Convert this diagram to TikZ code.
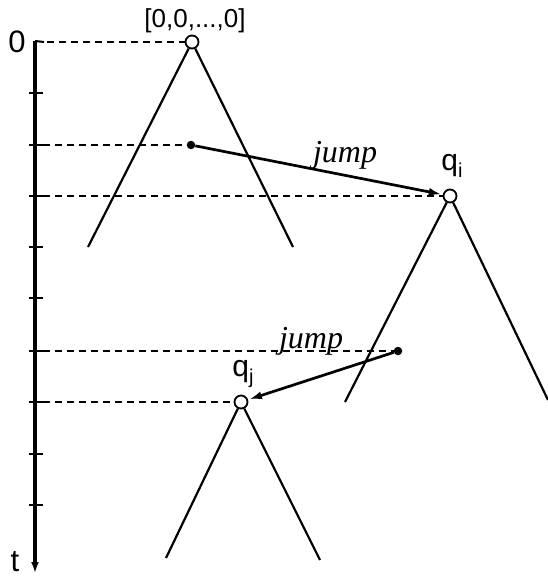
\documentclass[tikz,border=0pt]{standalone}
\usepackage{fontspec}
\setmainfont{Liberation Serif}
\newfontfamily\lsans{Liberation Sans}
\usetikzlibrary{arrows.meta}
\begin{document}
\begin{tikzpicture}[x=1pt,y=-1pt,
  tri/.style={line width=2.2pt},
  guide/.style={line width=1.3pt, dash pattern=on 7pt off 5pt},
  tickmark/.style={line width=2pt},
  openpt/.style={circle, draw, fill=white, line width=1.8pt, inner sep=0pt, minimum size=13pt},
  dotpt/.style={circle, fill=black, inner sep=0pt, minimum size=8.5pt},
  jumparrow/.style={line width=2.7pt, -{Latex[length=13pt,width=8pt]}, shorten >=1pt},
  lbl/.style={font=\lsans\fontsize{26}{26}\selectfont, inner sep=0pt},
  axlbl/.style={font=\lsans\fontsize{31}{31}\selectfont, inner sep=0pt},
  qlbl/.style={font=\lsans\fontsize{30}{30}\selectfont, inner sep=0pt},
  jlbl/.style={font=\itshape\fontsize{32}{32}\selectfont, inner sep=0pt}]
\useasboundingbox (0,0) rectangle (547,577);
\fill[white] (0,0) rectangle (547,577);
% time axis
\coordinate (axtop) at (35,41);
\coordinate (axbot) at (35,573);
\draw[line width=3.2pt, -{Latex[length=11pt,width=8pt]}] (axtop) -- (axbot);
\coordinate (tickzero) at (44,42);
\draw[tickmark] (axtop) -- (tickzero);
\foreach \y [count=\i] in {93,145,196,247,298,351,402,454,505} {
  \coordinate (tl\i) at (29,\y);
  \coordinate (tr\i) at (43,\y);
  \draw[tickmark] (tl\i) -- (tr\i);
}
\node[axlbl] (zero) at (17,42) {0};
\node[axlbl] (tlab) at (15,562) {t};
% nodes
\node[openpt] (root) at (192,42) {};
\node[lbl] (rootlab) at (195,21) {[0,0,...,0]};
\node[dotpt] (dot1) at (191,145) {};
\node[openpt] (qi) at (450,196) {};
\node[qlbl] (qilab) at (452,166) {q\raisebox{-7pt}{\fontsize{20}{20}\selectfont i}};
\node[dotpt] (dot2) at (398,351) {};
\node[openpt] (qj) at (241,402) {};
\node[qlbl] (qjlab) at (243,374) {q\raisebox{-7pt}{\fontsize{20}{20}\selectfont j}};
% triangle corners
\coordinate (t1l) at (88,247);
\coordinate (t1r) at (293,247);
\coordinate (t2l) at (345,402);
\coordinate (t2r) at (548,400);
\coordinate (t3l) at (166,558);
\coordinate (t3r) at (320,560);
\draw[tri] (t1l) -- (root) -- (t1r);
\draw[tri] (t2l) -- (qi) -- (t2r);
\draw[tri] (t3l) -- (qj) -- (t3r);
% dashed guides
\coordinate (g0) at (47,42);
\coordinate (g2) at (43,145);
\coordinate (g3) at (43,196);
\coordinate (g6) at (43,351);
\coordinate (g7) at (43,402);
\draw[guide] (g0) -- (root);
\draw[guide] (g2) -- (dot1);
\draw[guide] (g3) -- (qi);
\draw[guide] (g6) -- (dot2);
\draw[guide] (g7) -- (qj);
% jumps
\draw[jumparrow] (dot1) -- (qi);
\draw[jumparrow] (dot2) -- (qj);
\node[jlbl] (j1) at (345,155) {jump};
\node[jlbl] (j2) at (311,341) {jump};
\end{tikzpicture}
\end{document}
